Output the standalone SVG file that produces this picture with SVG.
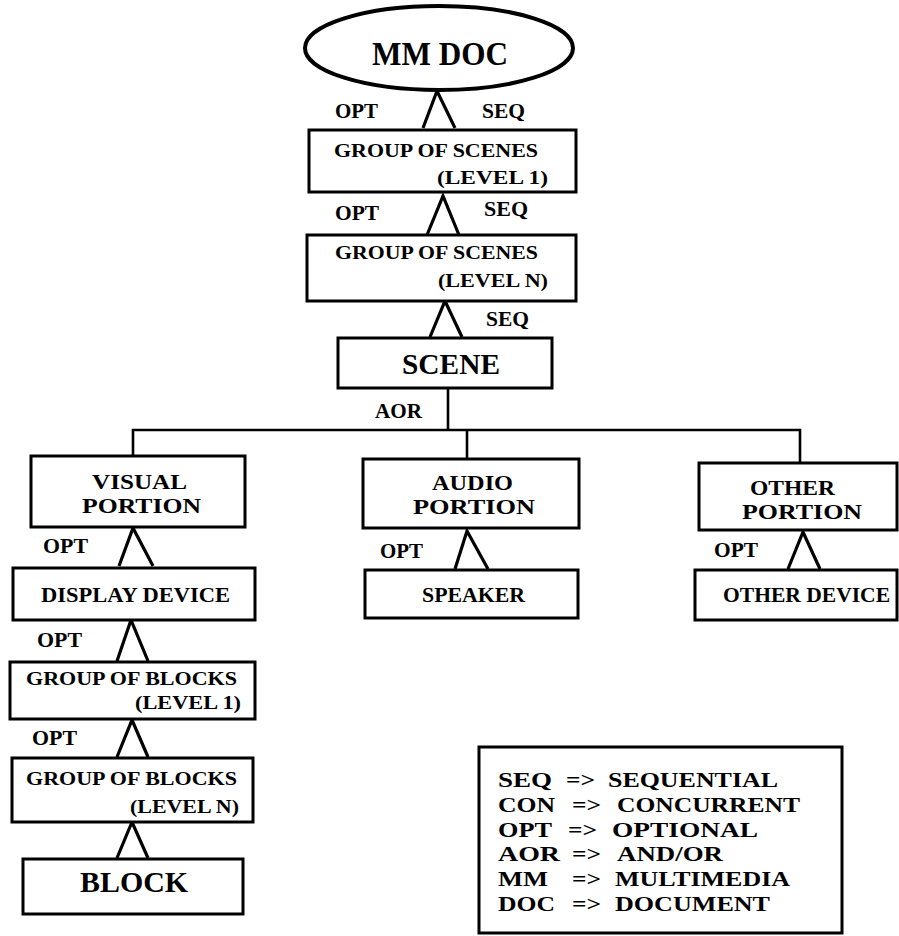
<svg xmlns="http://www.w3.org/2000/svg" width="899" height="936" viewBox="0 0 899 936">
  <style>
    .box { fill: #fff; stroke: #000; stroke-width: 3; }
    .oval { fill: #fff; stroke: #000; stroke-width: 4; }
    .link { fill: none; stroke: #000; stroke-width: 3.2; stroke-linejoin: miter; }
    .bus { fill: none; stroke: #000; stroke-width: 2.6; }
    .t { font-family: "Liberation Serif", "Times New Roman", serif; font-weight: bold; fill: #000; }
    .lbl { font-size: 20px; }
    .sm { font-size: 19px; }
    .md { font-size: 21px; }
    .two { font-size: 20px; }
    .xl { font-size: 30px; }
    .key { font-size: 22px; }
  </style>
  <rect width="899" height="936" fill="#fff"/>

  <!-- connectors: composition wedges, AND/OR bus, and their labels -->
  <g id="connectors">
    <polyline class="link" points="423,128 437,91 455,128"/>
    <polyline class="link" points="427,235 443,196 459,235"/>
    <polyline class="link" points="430,337 445,301 462,337"/>
    <polyline class="bus" points="448,388 448,430"/>
    <polyline class="bus" points="133,456 133,430 800,430 800,463"/>
    <polyline class="bus" points="467,430 467,459"/>
    <polyline class="link" points="119,566 133,528 153,566"/>
    <polyline class="link" points="455,569 467,531 488,569"/>
    <polyline class="link" points="788,569 803,532 820,569"/>
    <polyline class="link" points="117,661 131,620 148,661"/>
    <polyline class="link" points="117,757 132,720 148,757"/>
    <polyline class="link" points="117,858 132,822 148,858"/>

    <text class="t lbl" x="335" y="118" textLength="43" lengthAdjust="spacingAndGlyphs">OPT</text>
    <text class="t lbl" x="482" y="118" textLength="43" lengthAdjust="spacingAndGlyphs">SEQ</text>
    <text class="t lbl" x="335" y="220" textLength="44" lengthAdjust="spacingAndGlyphs">OPT</text>
    <text class="t lbl" x="484" y="216" textLength="44" lengthAdjust="spacingAndGlyphs">SEQ</text>
    <text class="t lbl" x="486" y="326" textLength="43" lengthAdjust="spacingAndGlyphs">SEQ</text>
    <text class="t lbl" x="375" y="418" textLength="47" lengthAdjust="spacingAndGlyphs">AOR</text>
    <text class="t lbl" x="43" y="553" textLength="45" lengthAdjust="spacingAndGlyphs">OPT</text>
    <text class="t lbl" x="380" y="558" textLength="43" lengthAdjust="spacingAndGlyphs">OPT</text>
    <text class="t lbl" x="714" y="557" textLength="44" lengthAdjust="spacingAndGlyphs">OPT</text>
    <text class="t lbl" x="37" y="647" textLength="45" lengthAdjust="spacingAndGlyphs">OPT</text>
    <text class="t lbl" x="32" y="745" textLength="45" lengthAdjust="spacingAndGlyphs">OPT</text>
  </g>

  <g id="mm-doc">
    <ellipse class="oval" cx="439" cy="48" rx="134" ry="42"/>
    <text class="t" font-size="33" x="372" y="65" textLength="136" lengthAdjust="spacingAndGlyphs">MM DOC</text>
  </g>

  <g id="scenes-level-1">
    <rect class="box" x="309" y="130" width="267" height="62"/>
    <text class="t sm" x="334" y="157" textLength="204" lengthAdjust="spacingAndGlyphs">GROUP OF SCENES</text>
    <text class="t sm" x="437" y="184" textLength="111" lengthAdjust="spacingAndGlyphs">(LEVEL 1)</text>
  </g>

  <g id="scenes-level-n">
    <rect class="box" x="307" y="235" width="269" height="66"/>
    <text class="t sm" x="335" y="259" textLength="203" lengthAdjust="spacingAndGlyphs">GROUP OF SCENES</text>
    <text class="t sm" x="438" y="287" textLength="110" lengthAdjust="spacingAndGlyphs">(LEVEL N)</text>
  </g>

  <g id="scene">
    <rect class="box" x="338" y="338" width="214" height="50"/>
    <text class="t xl" x="402" y="374" textLength="98" lengthAdjust="spacingAndGlyphs">SCENE</text>
  </g>

  <g id="visual-portion">
    <rect class="box" x="31" y="456" width="214" height="71"/>
    <text class="t two" x="92" y="489" textLength="95" lengthAdjust="spacingAndGlyphs">VISUAL</text>
    <text class="t two" x="82" y="513" textLength="119" lengthAdjust="spacingAndGlyphs">PORTION</text>
  </g>

  <g id="audio-portion">
    <rect class="box" x="363" y="459" width="216" height="69"/>
    <text class="t two" x="432" y="490" textLength="81" lengthAdjust="spacingAndGlyphs">AUDIO</text>
    <text class="t two" x="413" y="514" textLength="122" lengthAdjust="spacingAndGlyphs">PORTION</text>
  </g>

  <g id="other-portion">
    <rect class="box" x="699" y="463" width="198" height="67"/>
    <text class="t two" x="750" y="495" textLength="85" lengthAdjust="spacingAndGlyphs">OTHER</text>
    <text class="t two" x="742" y="519" textLength="120" lengthAdjust="spacingAndGlyphs">PORTION</text>
  </g>

  <g id="display-device">
    <rect class="box" x="13" y="568" width="242" height="52"/>
    <text class="t md" x="41" y="602" textLength="189" lengthAdjust="spacingAndGlyphs">DISPLAY DEVICE</text>
  </g>

  <g id="speaker">
    <rect class="box" x="365" y="570" width="213" height="48"/>
    <text class="t md" x="422" y="602" textLength="103" lengthAdjust="spacingAndGlyphs">SPEAKER</text>
  </g>

  <g id="other-device">
    <rect class="box" x="695" y="570" width="202" height="50"/>
    <text class="t md" x="723" y="602" textLength="167" lengthAdjust="spacingAndGlyphs">OTHER DEVICE</text>
  </g>

  <g id="blocks-level-1">
    <rect class="box" x="10" y="662" width="245" height="57"/>
    <text class="t sm" x="26" y="685" textLength="211" lengthAdjust="spacingAndGlyphs">GROUP OF BLOCKS</text>
    <text class="t sm" x="135" y="709" textLength="106" lengthAdjust="spacingAndGlyphs">(LEVEL 1)</text>
  </g>

  <g id="blocks-level-n">
    <rect class="box" x="12" y="758" width="241" height="64"/>
    <text class="t sm" x="26" y="785" textLength="211" lengthAdjust="spacingAndGlyphs">GROUP OF BLOCKS</text>
    <text class="t sm" x="130" y="813" textLength="109" lengthAdjust="spacingAndGlyphs">(LEVEL N)</text>
  </g>

  <g id="block">
    <rect class="box" x="23" y="859" width="220" height="55"/>
    <text class="t xl" x="80" y="892" textLength="108" lengthAdjust="spacingAndGlyphs">BLOCK</text>
  </g>

  <!-- abbreviation key -->
  <g id="legend">
    <rect class="box" x="479" y="747" width="363" height="186"/>
    <g class="t key">
      <text x="498" y="787" textLength="54" lengthAdjust="spacingAndGlyphs">SEQ</text>
      <text x="566" y="787" textLength="29" lengthAdjust="spacingAndGlyphs">=&gt;</text>
      <text x="608" y="787" textLength="170" lengthAdjust="spacingAndGlyphs">SEQUENTIAL</text>

      <text x="498" y="812" textLength="57" lengthAdjust="spacingAndGlyphs">CON</text>
      <text x="572" y="812" textLength="29" lengthAdjust="spacingAndGlyphs">=&gt;</text>
      <text x="617" y="812" textLength="183" lengthAdjust="spacingAndGlyphs">CONCURRENT</text>

      <text x="498" y="837" textLength="54" lengthAdjust="spacingAndGlyphs">OPT</text>
      <text x="568" y="837" textLength="29" lengthAdjust="spacingAndGlyphs">=&gt;</text>
      <text x="612" y="837" textLength="146" lengthAdjust="spacingAndGlyphs">OPTIONAL</text>

      <text x="498" y="861" textLength="62" lengthAdjust="spacingAndGlyphs">AOR</text>
      <text x="572" y="861" textLength="29" lengthAdjust="spacingAndGlyphs">=&gt;</text>
      <text x="617" y="861" textLength="106" lengthAdjust="spacingAndGlyphs">AND/OR</text>

      <text x="498" y="886" textLength="50" lengthAdjust="spacingAndGlyphs">MM</text>
      <text x="572" y="886" textLength="29" lengthAdjust="spacingAndGlyphs">=&gt;</text>
      <text x="615" y="886" textLength="175" lengthAdjust="spacingAndGlyphs">MULTIMEDIA</text>

      <text x="498" y="911" textLength="57" lengthAdjust="spacingAndGlyphs">DOC</text>
      <text x="572" y="911" textLength="29" lengthAdjust="spacingAndGlyphs">=&gt;</text>
      <text x="615" y="911" textLength="155" lengthAdjust="spacingAndGlyphs">DOCUMENT</text>
    </g>
  </g>
</svg>
